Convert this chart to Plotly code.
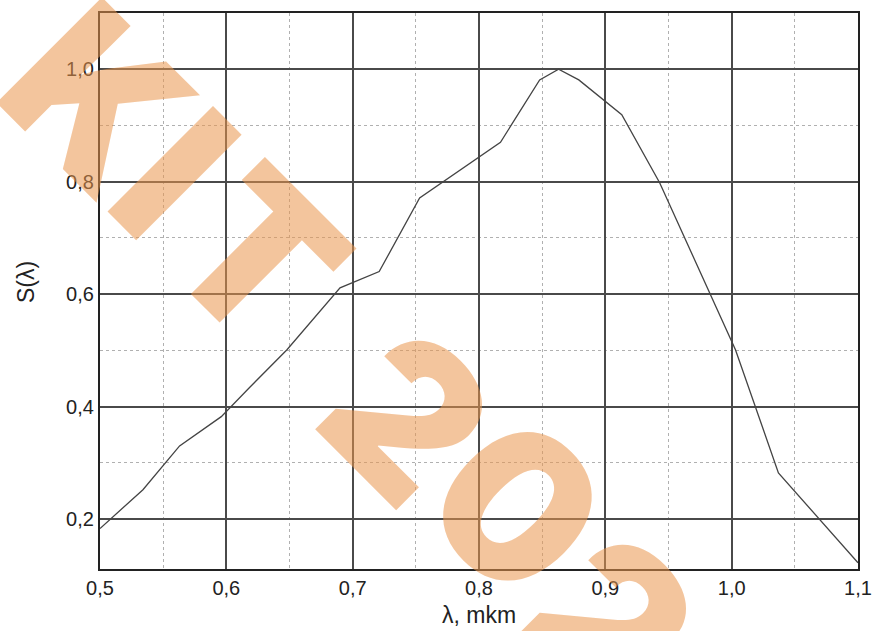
import plotly.graph_objects as go

# spectral sensitivity S(lambda)
wavelength = [0.5, 0.534, 0.563, 0.596, 0.618, 0.648, 0.690, 0.721, 0.753, 0.817,
              0.848, 0.863, 0.879, 0.913, 0.943, 1.003, 1.037, 1.1]
sensitivity = [0.183, 0.252, 0.330, 0.382, 0.433, 0.501, 0.611, 0.640, 0.771, 0.870,
               0.981, 1.000, 0.981, 0.919, 0.798, 0.501, 0.282, 0.122]

x_ticks = [0.5, 0.6, 0.7, 0.8, 0.9, 1.0, 1.1]
y_ticks = [0.2, 0.4, 0.6, 0.8, 1.0]

# watermark characters and their centres (image pixels)
wm_chars = ["K", "I", "T", "2", "0", "2"]
wm_px = [(98, 98), (175, 173), (258, 255), (408, 416), (518, 506), (612, 620)]

W, H = 872, 631
ML, MR, MT, MB = 100, 14, 13, 62
PW, PH = W - ML - MR, H - MT - MB

fig = go.Figure()
fig.add_trace(go.Scatter(
    x=wavelength, y=sensitivity, mode="lines",
    line=dict(color="#444", width=1.3), showlegend=False, hoverinfo="skip"))

FAM = "Liberation Sans, Arial, sans-serif"
axis_font = dict(family=FAM, size=20, color="#222")

fig.update_xaxes(
    range=[0.5, 1.1], tickvals=x_ticks, tickformat=".1f", automargin=False,
    showgrid=True, gridcolor="#4a4a4a", gridwidth=1.5,
    minor=dict(dtick=0.05, tick0=0.5, showgrid=True, gridcolor="#b0b0b0", griddash="dot", gridwidth=1),
    showline=True, linecolor="#222", linewidth=2.2, mirror=True,
    zeroline=False, ticks="", tickfont=axis_font,
)
fig.update_yaxes(
    range=[0.111, 1.1], tickvals=y_ticks, tickformat=".1f", automargin=False,
    showgrid=True, gridcolor="#4a4a4a", gridwidth=1.5,
    minor=dict(dtick=0.1, tick0=0.1, showgrid=True, gridcolor="#b0b0b0", griddash="dot", gridwidth=1),
    showline=True, linecolor="#222", linewidth=2.2, mirror=True,
    zeroline=False, ticks="", tickfont=axis_font,
)

# axis titles
fig.add_annotation(text="S(λ)", xref="paper", yref="paper", x=(26 - ML) / PW, y=(H - MB - 282) / PH,
                   xanchor="center", yanchor="middle", showarrow=False, textangle=-90,
                   font=dict(family=FAM, size=23, color="#222"))
fig.add_annotation(text="λ, mkm", xref="paper", yref="paper", x=0.5, y=(H - MB - 615) / PH,
                   xanchor="center", yanchor="middle", showarrow=False,
                   font=dict(family=FAM, size=23, color="#222"))

for ch, (px, py) in zip(wm_chars, wm_px):
    fig.add_annotation(
        text=ch, xref="paper", yref="paper",
        x=(px - ML) / PW, y=(H - MB - py) / PH,
        xanchor="center", yanchor="middle", showarrow=False, textangle=45,
        font=dict(family="Inter, Lato, DejaVu Sans, sans-serif", size=205, weight=900,
                  color="rgba(233,150,77,0.55)"),
    )

fig.update_layout(
    width=W, height=H, margin=dict(l=ML, r=MR, t=MT, b=MB, autoexpand=False),
    paper_bgcolor="white", plot_bgcolor="white", separators=", ",
)

fig.write_html("out.html", config={"displayModeBar": False},
               post_script="document.body.style.margin='0px';")
